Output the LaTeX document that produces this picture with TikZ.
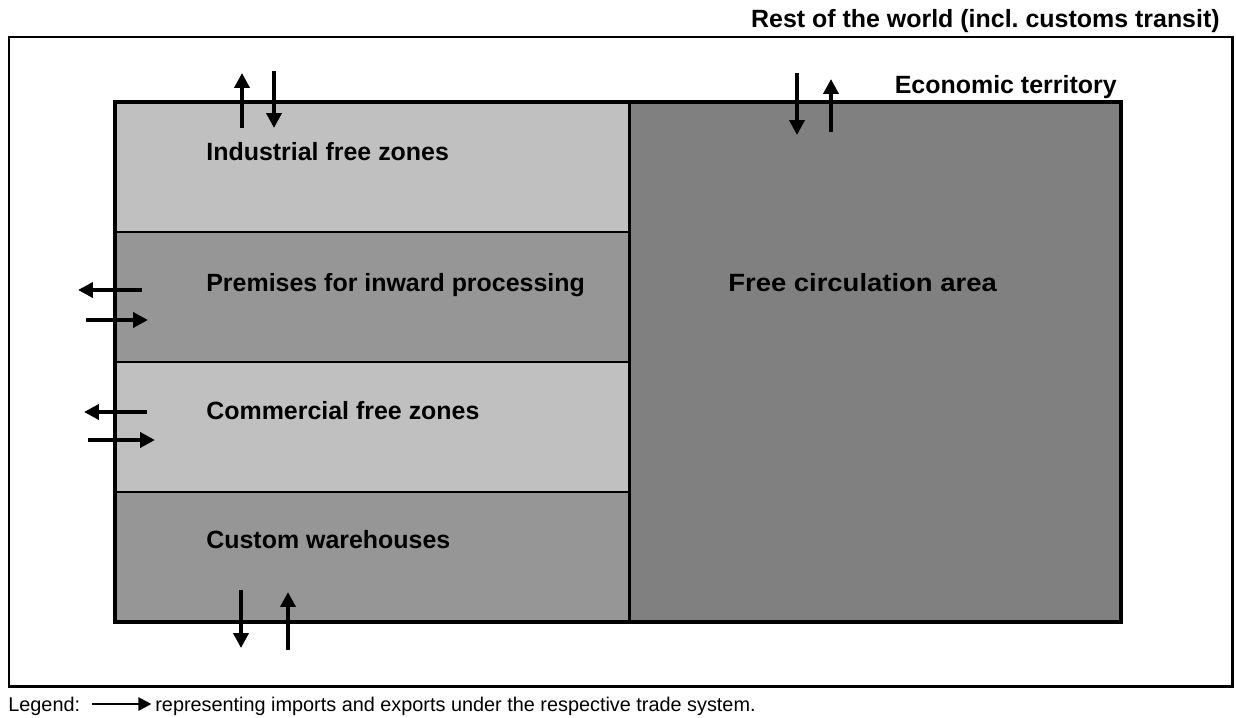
\documentclass[tikz,border=0pt]{standalone}
\usepackage{fontspec}
\setmainfont{Liberation Sans}
\usetikzlibrary{arrows.meta}
\frenchspacing
\definecolor{lightzone}{gray}{0.753}
\definecolor{midzone}{gray}{0.588}
\definecolor{darkzone}{gray}{0.502}
\tikzset{
  zone/.style={draw=black, line width=1.1pt},
  flow/.style={line width=2.1pt, -{Triangle[length=8.5pt,width=8.5pt]}},
  zonelabel/.style={anchor=base west, inner sep=0pt, font=\fontsize{14.2}{17}\selectfont\bfseries},
}
\begin{document}
\begin{tikzpicture}[x=0.02cm, y=-0.02cm]
\useasboundingbox (0,0) rectangle (1236,717);
% Rest of the world
\draw[line width=1.7pt] (9,37) rectangle (1232,686);
\node[anchor=base east, inner sep=0pt, font=\fontsize{14.2}{17}\selectfont\bfseries] (world) at (1220,27) {Rest of the world (incl. customs transit)};
% The four zones on the left
\foreach \y/\c in {102/lightzone,232/midzone,362/lightzone,492/midzone}
{
  \draw[zone, fill=\c] (115,\y) rectangle ++(514,130);
}
% Free circulation area
\draw[zone, fill=darkzone] (629,102) rectangle (1121,622);
% Economic territory border
\draw[line width=2.2pt] (115,102) rectangle (1121,622);
\draw[line width=1.7pt] (629,102) -- (629,622);
\node[zonelabel, anchor=base east] (eco) at (1117,93) {Economic territory};
% Labels of the zones
\node[zonelabel] (ind) at (206,160) {Industrial free zones};
\node[zonelabel] (inw) at (206,291) {Premises for inward processing};
\node[zonelabel] (com) at (206,419) {Commercial free zones};
\node[zonelabel] (cus) at (206,548) {Custom warehouses};
\node[zonelabel] (fca) at (728,291) {\scalebox{1.1}[1]{Free circulation area}};
% Imports and exports
\foreach \xa/\ya/\xb/\yb in {242/128/242/73, 274/71/274/128, 797/73/797/135, 831/132/831/79,
  142/290/78/290, 86/320/148/320, 147/412/84/412, 88/440/155/440,
  241/590/241/648, 288/650/288/592}
{
  \draw[flow] (\xa,\ya) -- (\xb,\yb);
}
% Legend
\node[anchor=base west, inner sep=0pt, font=\fontsize{11.3}{14}\selectfont] (leg) at (8,711) {Legend:};
\node[anchor=base west, inner sep=0pt, font=\fontsize{11.3}{14}\selectfont] (legtext) at (155,711) {representing imports and exports under the respective trade system.};
\coordinate (legstart) at (92,704);
\draw[line width=1.3pt, -{Triangle[length=7.5pt,width=7.5pt]}] (legstart) -- ([xshift=-2pt]legtext.base west |- legstart);
\end{tikzpicture}
\end{document}
